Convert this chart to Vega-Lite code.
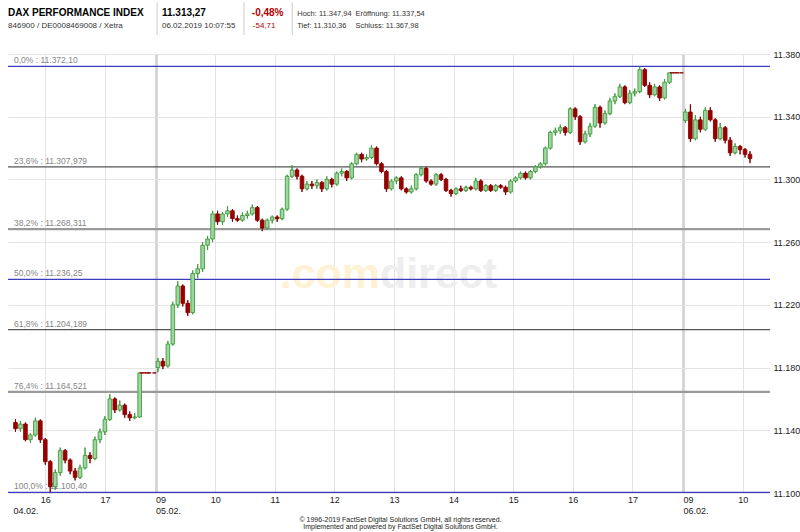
{
  "$schema": "https://vega.github.io/schema/vega-lite/v6.json",
  "width": 762,
  "height": 439,
  "autosize": {"type": "none"},
  "padding": {"left": 8, "top": 54, "right": 30, "bottom": 39},
  "background": "white",
  "config": {
    "view": {"stroke": null},
    "font": "Liberation Sans",
    "text": {"font": "Liberation Sans"},
    "axis": {"labelFont": "Liberation Sans", "titleFont": "Liberation Sans"}
  },
  "datasets": {
    "candles": [
      {"t":15.5,"o":11145,"h":11147,"l":11139,"c":11141},
      {"t":15.583,"o":11141,"h":11146,"l":11139,"c":11144},
      {"t":15.667,"o":11144,"h":11145,"l":11133,"c":11134},
      {"t":15.75,"o":11134,"h":11138,"l":11132,"c":11137},
      {"t":15.833,"o":11137,"h":11148,"l":11136,"c":11146},
      {"t":15.917,"o":11146,"h":11147,"l":11132,"c":11134},
      {"t":16.0,"o":11134,"h":11135,"l":11118,"c":11120},
      {"t":16.083,"o":11120,"h":11121,"l":11100.4,"c":11104},
      {"t":16.167,"o":11104,"h":11115,"l":11102,"c":11113},
      {"t":16.25,"o":11113,"h":11129,"l":11111,"c":11127},
      {"t":16.333,"o":11127,"h":11128,"l":11119,"c":11121},
      {"t":16.417,"o":11121,"h":11122,"l":11112,"c":11114},
      {"t":16.5,"o":11114,"h":11116,"l":11108,"c":11110},
      {"t":16.583,"o":11110,"h":11118,"l":11109,"c":11116},
      {"t":16.667,"o":11116,"h":11129,"l":11115,"c":11124},
      {"t":16.75,"o":11124,"h":11126,"l":11119,"c":11122},
      {"t":16.833,"o":11122,"h":11136,"l":11121,"c":11134},
      {"t":16.917,"o":11134,"h":11141,"l":11132,"c":11139},
      {"t":17.0,"o":11139,"h":11149,"l":11137,"c":11147},
      {"t":17.083,"o":11147,"h":11163,"l":11146,"c":11160},
      {"t":17.167,"o":11160,"h":11161,"l":11151,"c":11153},
      {"t":17.25,"o":11153,"h":11159,"l":11152,"c":11156},
      {"t":17.333,"o":11156,"h":11157,"l":11148,"c":11150},
      {"t":17.417,"o":11150,"h":11152,"l":11146,"c":11148},
      {"t":17.5,"o":11148,"h":11151,"l":11147,"c":11148.5},
      {"t":17.583,"o":11148.5,"h":11176.6,"l":11148,"c":11176.6},
      {"t":17.615,"o":11176.6,"h":11176.6,"l":11176.6,"c":11176.6},
      {"t":17.665,"o":11176.6,"h":11176.6,"l":11176.6,"c":11176.6},
      {"t":17.715,"o":11176.6,"h":11176.6,"l":11176.6,"c":11176.6},
      {"t":17.745,"o":11176.6,"h":11176.6,"l":11176.6,"c":11176.6},
      {"t":17.83,"o":11176.6,"h":11176.6,"l":11176.6,"c":11176.6},
      {"t":17.89,"o":11180,"h":11186,"l":11177,"c":11184},
      {"t":17.973,"o":11184,"h":11186,"l":11179,"c":11181},
      {"t":18.057,"o":11181,"h":11197,"l":11180,"c":11195},
      {"t":18.14,"o":11195,"h":11222,"l":11194,"c":11220},
      {"t":18.223,"o":11220,"h":11235,"l":11218,"c":11232},
      {"t":18.307,"o":11232,"h":11233,"l":11219,"c":11221},
      {"t":18.39,"o":11221,"h":11223,"l":11213,"c":11215},
      {"t":18.473,"o":11215,"h":11242,"l":11214,"c":11240},
      {"t":18.557,"o":11240,"h":11246,"l":11237,"c":11243},
      {"t":18.64,"o":11243,"h":11260,"l":11241,"c":11258},
      {"t":18.723,"o":11258,"h":11264,"l":11255,"c":11262},
      {"t":18.807,"o":11262,"h":11280,"l":11260,"c":11278},
      {"t":18.89,"o":11278,"h":11280,"l":11271,"c":11273},
      {"t":18.973,"o":11273,"h":11279,"l":11271,"c":11278},
      {"t":19.057,"o":11278,"h":11283,"l":11276,"c":11280},
      {"t":19.14,"o":11280,"h":11281,"l":11273,"c":11275},
      {"t":19.223,"o":11275,"h":11277,"l":11273,"c":11274},
      {"t":19.307,"o":11274,"h":11279,"l":11273,"c":11277},
      {"t":19.39,"o":11277,"h":11280,"l":11275,"c":11278},
      {"t":19.473,"o":11278,"h":11284,"l":11277,"c":11282},
      {"t":19.557,"o":11282,"h":11283,"l":11273,"c":11274},
      {"t":19.64,"o":11274,"h":11275,"l":11267,"c":11269},
      {"t":19.723,"o":11269,"h":11275,"l":11268,"c":11274},
      {"t":19.807,"o":11274,"h":11277,"l":11272,"c":11276},
      {"t":19.89,"o":11276,"h":11277,"l":11273,"c":11275},
      {"t":19.973,"o":11275,"h":11282,"l":11274,"c":11281},
      {"t":20.057,"o":11281,"h":11303,"l":11280,"c":11302},
      {"t":20.14,"o":11302,"h":11309,"l":11301,"c":11306},
      {"t":20.223,"o":11306,"h":11307,"l":11300,"c":11302},
      {"t":20.307,"o":11302,"h":11303,"l":11292,"c":11294},
      {"t":20.39,"o":11294,"h":11299,"l":11293,"c":11297},
      {"t":20.473,"o":11297,"h":11299,"l":11294,"c":11296},
      {"t":20.557,"o":11296,"h":11300,"l":11294,"c":11298},
      {"t":20.64,"o":11298,"h":11299,"l":11292,"c":11294},
      {"t":20.723,"o":11294,"h":11302,"l":11293,"c":11300},
      {"t":20.807,"o":11300,"h":11301,"l":11295,"c":11297},
      {"t":20.89,"o":11297,"h":11305,"l":11296,"c":11304},
      {"t":20.973,"o":11304,"h":11307,"l":11302,"c":11305},
      {"t":21.057,"o":11305,"h":11306,"l":11299,"c":11301},
      {"t":21.14,"o":11301,"h":11311,"l":11300,"c":11310},
      {"t":21.223,"o":11310,"h":11317,"l":11309,"c":11316},
      {"t":21.307,"o":11316,"h":11317,"l":11311,"c":11313},
      {"t":21.39,"o":11313,"h":11316,"l":11312,"c":11314},
      {"t":21.473,"o":11314,"h":11322,"l":11313,"c":11320},
      {"t":21.557,"o":11320,"h":11321,"l":11309,"c":11310},
      {"t":21.64,"o":11310,"h":11311,"l":11304,"c":11305},
      {"t":21.723,"o":11305,"h":11306,"l":11292,"c":11294},
      {"t":21.807,"o":11294,"h":11300,"l":11293,"c":11299},
      {"t":21.89,"o":11299,"h":11302,"l":11297,"c":11301},
      {"t":21.973,"o":11301,"h":11302,"l":11293,"c":11294},
      {"t":22.057,"o":11294,"h":11295,"l":11291,"c":11292},
      {"t":22.14,"o":11292,"h":11296,"l":11291,"c":11294},
      {"t":22.223,"o":11294,"h":11304,"l":11293,"c":11303},
      {"t":22.307,"o":11303,"h":11308,"l":11302,"c":11307},
      {"t":22.39,"o":11307,"h":11308,"l":11298,"c":11299},
      {"t":22.473,"o":11299,"h":11300,"l":11296,"c":11297},
      {"t":22.557,"o":11297,"h":11304,"l":11296,"c":11303},
      {"t":22.64,"o":11303,"h":11304,"l":11299,"c":11300},
      {"t":22.723,"o":11300,"h":11301,"l":11292,"c":11293},
      {"t":22.807,"o":11293,"h":11294,"l":11289,"c":11291},
      {"t":22.89,"o":11291,"h":11295,"l":11290,"c":11294},
      {"t":22.973,"o":11294,"h":11296,"l":11292,"c":11293},
      {"t":23.057,"o":11293,"h":11296,"l":11292,"c":11295},
      {"t":23.14,"o":11295,"h":11296,"l":11293,"c":11294},
      {"t":23.223,"o":11294,"h":11301,"l":11293,"c":11299},
      {"t":23.307,"o":11299,"h":11300,"l":11292,"c":11293},
      {"t":23.39,"o":11293,"h":11297,"l":11292,"c":11296},
      {"t":23.473,"o":11296,"h":11297,"l":11292,"c":11293},
      {"t":23.557,"o":11293,"h":11297,"l":11292,"c":11296},
      {"t":23.64,"o":11296,"h":11297,"l":11294,"c":11295},
      {"t":23.723,"o":11295,"h":11296,"l":11290,"c":11292},
      {"t":23.807,"o":11292,"h":11300,"l":11291,"c":11299},
      {"t":23.89,"o":11299,"h":11302,"l":11298,"c":11301},
      {"t":23.973,"o":11301,"h":11305,"l":11300,"c":11304},
      {"t":24.057,"o":11304,"h":11305,"l":11300,"c":11301},
      {"t":24.14,"o":11301,"h":11306,"l":11300,"c":11305},
      {"t":24.223,"o":11305,"h":11309,"l":11304,"c":11308},
      {"t":24.307,"o":11308,"h":11311,"l":11307,"c":11310},
      {"t":24.39,"o":11310,"h":11321,"l":11309,"c":11320},
      {"t":24.473,"o":11320,"h":11331,"l":11319,"c":11330},
      {"t":24.557,"o":11330,"h":11333,"l":11328,"c":11331},
      {"t":24.64,"o":11331,"h":11335,"l":11329,"c":11333},
      {"t":24.723,"o":11333,"h":11334,"l":11328,"c":11330},
      {"t":24.807,"o":11330,"h":11346,"l":11329,"c":11345},
      {"t":24.89,"o":11345,"h":11346,"l":11338,"c":11340},
      {"t":24.973,"o":11340,"h":11341,"l":11322,"c":11324},
      {"t":25.057,"o":11324,"h":11331,"l":11323,"c":11329},
      {"t":25.14,"o":11329,"h":11336,"l":11327,"c":11334},
      {"t":25.223,"o":11334,"h":11348,"l":11333,"c":11346},
      {"t":25.307,"o":11346,"h":11347,"l":11333,"c":11336},
      {"t":25.39,"o":11336,"h":11344,"l":11335,"c":11342},
      {"t":25.473,"o":11342,"h":11352,"l":11341,"c":11350},
      {"t":25.557,"o":11350,"h":11355,"l":11348,"c":11353},
      {"t":25.64,"o":11353,"h":11361,"l":11352,"c":11359},
      {"t":25.723,"o":11359,"h":11360,"l":11348,"c":11349},
      {"t":25.807,"o":11349,"h":11357,"l":11348,"c":11355},
      {"t":25.89,"o":11355,"h":11358,"l":11353,"c":11356},
      {"t":25.973,"o":11356,"h":11372.1,"l":11355,"c":11370},
      {"t":26.057,"o":11370,"h":11371,"l":11359,"c":11360},
      {"t":26.14,"o":11360,"h":11362,"l":11352,"c":11354},
      {"t":26.223,"o":11354,"h":11361,"l":11353,"c":11359},
      {"t":26.307,"o":11359,"h":11360,"l":11350,"c":11352},
      {"t":26.39,"o":11352,"h":11364,"l":11351,"c":11362},
      {"t":26.473,"o":11362,"h":11368,"l":11361,"c":11368},
      {"t":26.51,"o":11368,"h":11368,"l":11368,"c":11368},
      {"t":26.56,"o":11368,"h":11368,"l":11368,"c":11368},
      {"t":26.61,"o":11368,"h":11368,"l":11368,"c":11368},
      {"t":26.675,"o":11368,"h":11368,"l":11368,"c":11368},
      {"t":26.74,"o":11337.5,"h":11345,"l":11336,"c":11343},
      {"t":26.823,"o":11343,"h":11347.9,"l":11324,"c":11326},
      {"t":26.907,"o":11326,"h":11341,"l":11325,"c":11338},
      {"t":26.99,"o":11338,"h":11340,"l":11330,"c":11332},
      {"t":27.073,"o":11332,"h":11346,"l":11331,"c":11344},
      {"t":27.157,"o":11344,"h":11346,"l":11337,"c":11338},
      {"t":27.24,"o":11338,"h":11339,"l":11324,"c":11326},
      {"t":27.323,"o":11326,"h":11336,"l":11325,"c":11333},
      {"t":27.407,"o":11333,"h":11334,"l":11323,"c":11325},
      {"t":27.49,"o":11325,"h":11327,"l":11315,"c":11317},
      {"t":27.573,"o":11317,"h":11323,"l":11316,"c":11321},
      {"t":27.657,"o":11321,"h":11322,"l":11316,"c":11319},
      {"t":27.74,"o":11319,"h":11320,"l":11314,"c":11316},
      {"t":27.823,"o":11316,"h":11318,"l":11310.4,"c":11313.3}
    ],
    "fib": [
      {"p":0,"v":11372.10,"lbl":"0,0% : 11.372,10"},
      {"p":23.6,"v":11307.979,"lbl":"23,6% : 11.307,979"},
      {"p":38.2,"v":11268.311,"lbl":"38,2% : 11.268,311"},
      {"p":50,"v":11236.25,"lbl":"50,0% : 11.236,25"},
      {"p":61.8,"v":11204.189,"lbl":"61,8% : 11.204,189"},
      {"p":76.4,"v":11164.521,"lbl":"76,4% : 11.164,521"},
      {"p":100,"v":11100.40,"lbl":"100,0% : 11.100,40"}
    ]
  },
  "layer": [
    {
      "data": {"name": "candles"},
      "mark": {"type": "rule", "strokeWidth": 1},
      "encoding": {
        "x": {
          "field": "t", "type": "quantitative",
          "scale": {"domain": [15.4583, 28.075], "nice": false, "zero": false},
          "axis": {
            "values": [15.4583, 16, 17, 17.85, 18.85, 19.85, 20.85, 21.85, 22.85, 23.85, 24.85, 25.85, 26.7, 27.7],
            "labelExpr": "datum.value < 15.5 ? [' ', '04.02.'] : datum.value == 17.85 ? ['09', '05.02.'] : datum.value == 26.7 ? ['09', '06.02.'] : '' + round(datum.value < 17.85 ? datum.value : datum.value < 26.7 ? datum.value - 8.85 : datum.value - 17.7)",
            "labelAlign": {"condition": {"test": "datum.value < 15.5 || datum.value == 17.85 || datum.value == 26.7", "value": "left"}, "value": "center"},
            "labelBaseline": "top",
            "labelFontSize": 9,
            "labelColor": "#222222",
            "labelPadding": 2,
            "labelLineHeight": 11,
            "labelFlush": false,
            "labelOverlap": false,
            "ticks": false,
            "domain": false,
            "grid": true,
            "gridColor": {"condition": {"test": "datum.value == 17.85 || datum.value == 26.7", "value": "#d6d6d6"}, "value": "#e4e4e4"},
            "gridWidth": {"condition": {"test": "datum.value == 17.85 || datum.value == 26.7", "value": 3}, "value": 1},
            "gridOpacity": {"condition": {"test": "datum.value < 15.5", "value": 0}, "value": 1},
            "title": ["© 1996-2019 FactSet Digital Solutions GmbH, all rights reserved.", "Implemented and powered by FactSet Digital Solutions GmbH."],
            "titleFontSize": 7,
            "titleLineHeight": 7.5,
            "titleFontWeight": "normal",
            "titleColor": "#222222",
            "titlePadding": 0,
            "titleX": 392
          }
        },
        "y": {
          "field": "l", "type": "quantitative",
          "scale": {"domain": [11100, 11380], "nice": false, "zero": false},
          "axis": {
            "orient": "right",
            "values": [11100, 11120, 11140, 11160, 11180, 11200, 11220, 11240, 11260, 11280, 11300, 11320, 11340, 11360, 11380],
            "labelExpr": "replace(format(datum.value, ','), ',', '.')",
            "labelFontSize": 9,
            "labelColor": "#222222",
            "labelPadding": 3,
            "ticks": false,
            "domain": false,
            "grid": true,
            "gridColor": "#e4e4e4",
            "title": null
          }
        },
        "y2": {"field": "h"},
        "color": {"condition": {"test": "datum.c > datum.o", "value": "#3f9c3f"}, "value": "#8b0000"}
      }
    },
    {
      "data": {"values": [{}]},
      "mark": {"type": "text", "text": ".com", "align": "right", "baseline": "alphabetic", "fontSize": 43, "fontWeight": "bold", "color": "#fdf2d6"},
      "encoding": {"x": {"datum": 21.617, "type": "quantitative"}, "y": {"datum": 11230.8, "type": "quantitative"}}
    },
    {
      "data": {"values": [{}]},
      "mark": {"type": "text", "text": "direct", "align": "left", "baseline": "alphabetic", "fontSize": 43, "fontWeight": "bold", "color": "#eeeeee"},
      "encoding": {"x": {"datum": 21.617, "type": "quantitative"}, "y": {"datum": 11230.8, "type": "quantitative"}}
    },
    {
      "data": {"name": "fib"},
      "mark": {"type": "rule"},
      "encoding": {
        "y": {"field": "v", "type": "quantitative"},
        "color": {"condition": [{"test": "datum.p == 0 || datum.p == 50 || datum.p == 100", "value": "#3c3cc0"}, {"test": "datum.p == 38.2 || datum.p == 76.4", "value": "#9a9a9a"}], "value": "#555555"},
        "strokeWidth": {"condition": {"test": "datum.p == 38.2 || datum.p == 76.4", "value": 2.2}, "value": 1.2}
      }
    },
    {
      "data": {"name": "fib"},
      "mark": {"type": "text", "align": "left", "baseline": "bottom", "dx": 1, "dy": -1, "fontSize": 8.5, "color": "#858585"},
      "encoding": {
        "x": {"datum": 15.4583, "type": "quantitative"},
        "y": {"field": "v", "type": "quantitative"},
        "text": {"field": "lbl"}
      }
    },
    {
      "data": {"name": "candles"},
      "mark": {"type": "rule", "strokeWidth": 1},
      "encoding": {
        "x": {"field": "t", "type": "quantitative"},
        "y": {"field": "l", "type": "quantitative"},
        "y2": {"field": "h"},
        "color": {"condition": {"test": "datum.c > datum.o", "value": "#3f9c3f"}, "value": "#8b0000"}
      }
    },
    {
      "data": {"name": "candles"},
      "mark": {"type": "bar", "width": 3.6, "strokeWidth": 0.9},
      "encoding": {
        "x": {"field": "t", "type": "quantitative"},
        "y": {"field": "o", "type": "quantitative"},
        "y2": {"field": "c"},
        "fill": {"condition": {"test": "datum.c > datum.o", "value": "#9fd69f"}, "value": "#9a0000"},
        "stroke": {"condition": {"test": "datum.c > datum.o", "value": "#3f9c3f"}, "value": "#8b0000"}
      }
    },
    {
      "data": {"values": [{}]},
      "mark": {"type": "rule", "color": "#cccccc", "strokeWidth": 1},
      "encoding": {"x": {"datum": 17.876, "type": "quantitative"}, "y": {"datum": 11413, "type": "quantitative"}, "y2": {"datum": 11392.1}}
    },
    {
      "data": {"values": [{}]},
      "mark": {"type": "rule", "color": "#cccccc", "strokeWidth": 1},
      "encoding": {"x": {"datum": 19.333, "type": "quantitative"}, "y": {"datum": 11413, "type": "quantitative"}, "y2": {"datum": 11392.1}}
    },
    {
      "data": {"values": [{}]},
      "mark": {"type": "rule", "color": "#cccccc", "strokeWidth": 1},
      "encoding": {"x": {"datum": 20.144, "type": "quantitative"}, "y": {"datum": 11413, "type": "quantitative"}, "y2": {"datum": 11392.1}}
    },
    {
      "data": {"values": [{}]},
      "mark": {"type": "text", "text": "DAX PERFORMANCE INDEX", "align": "left", "baseline": "alphabetic", "fontSize": 10, "fontWeight": "bold", "color": "#000000"},
      "encoding": {"x": {"datum": 15.3755, "type": "quantitative"}, "y": {"datum": 11404.5, "type": "quantitative"}}
    },
    {
      "data": {"values": [{}]},
      "mark": {"type": "text", "text": "846900 / DE0008469008 / Xetra", "align": "left", "baseline": "alphabetic", "fontSize": 8, "color": "#333333"},
      "encoding": {"x": {"datum": 15.3755, "type": "quantitative"}, "y": {"datum": 11396.9, "type": "quantitative"}}
    },
    {
      "data": {"values": [{}]},
      "mark": {"type": "text", "text": "11.313,27", "align": "left", "baseline": "alphabetic", "fontSize": 10, "fontWeight": "bold", "color": "#000000"},
      "encoding": {"x": {"datum": 17.958, "type": "quantitative"}, "y": {"datum": 11404.5, "type": "quantitative"}}
    },
    {
      "data": {"values": [{}]},
      "mark": {"type": "text", "text": "06.02.2019 10:07:55", "align": "left", "baseline": "alphabetic", "fontSize": 8, "color": "#333333"},
      "encoding": {"x": {"datum": 17.958, "type": "quantitative"}, "y": {"datum": 11396.9, "type": "quantitative"}}
    },
    {
      "data": {"values": [{}]},
      "mark": {"type": "text", "text": "-0,48%", "align": "left", "baseline": "alphabetic", "fontSize": 10, "fontWeight": "bold", "color": "#b00000"},
      "encoding": {"x": {"datum": 19.465, "type": "quantitative"}, "y": {"datum": 11404.5, "type": "quantitative"}}
    },
    {
      "data": {"values": [{}]},
      "mark": {"type": "text", "text": "-54,71", "align": "left", "baseline": "alphabetic", "fontSize": 8, "color": "#b00000"},
      "encoding": {"x": {"datum": 19.481, "type": "quantitative"}, "y": {"datum": 11396.9, "type": "quantitative"}}
    },
    {
      "data": {"values": [{}]},
      "mark": {"type": "text", "text": "Hoch: 11.347,94", "align": "left", "baseline": "alphabetic", "fontSize": 7.5, "color": "#333333"},
      "encoding": {"x": {"datum": 20.227, "type": "quantitative"}, "y": {"datum": 11404.5, "type": "quantitative"}}
    },
    {
      "data": {"values": [{}]},
      "mark": {"type": "text", "text": "Eröffnung: 11.337,54", "align": "left", "baseline": "alphabetic", "fontSize": 7.5, "color": "#333333"},
      "encoding": {"x": {"datum": 21.203, "type": "quantitative"}, "y": {"datum": 11404.5, "type": "quantitative"}}
    },
    {
      "data": {"values": [{}]},
      "mark": {"type": "text", "text": "Tief: 11.310,36", "align": "left", "baseline": "alphabetic", "fontSize": 7.5, "color": "#333333"},
      "encoding": {"x": {"datum": 20.227, "type": "quantitative"}, "y": {"datum": 11396.9, "type": "quantitative"}}
    },
    {
      "data": {"values": [{}]},
      "mark": {"type": "text", "text": "Schluss: 11.367,98", "align": "left", "baseline": "alphabetic", "fontSize": 7.5, "color": "#333333"},
      "encoding": {"x": {"datum": 21.203, "type": "quantitative"}, "y": {"datum": 11396.9, "type": "quantitative"}}
    }
  ]
}
